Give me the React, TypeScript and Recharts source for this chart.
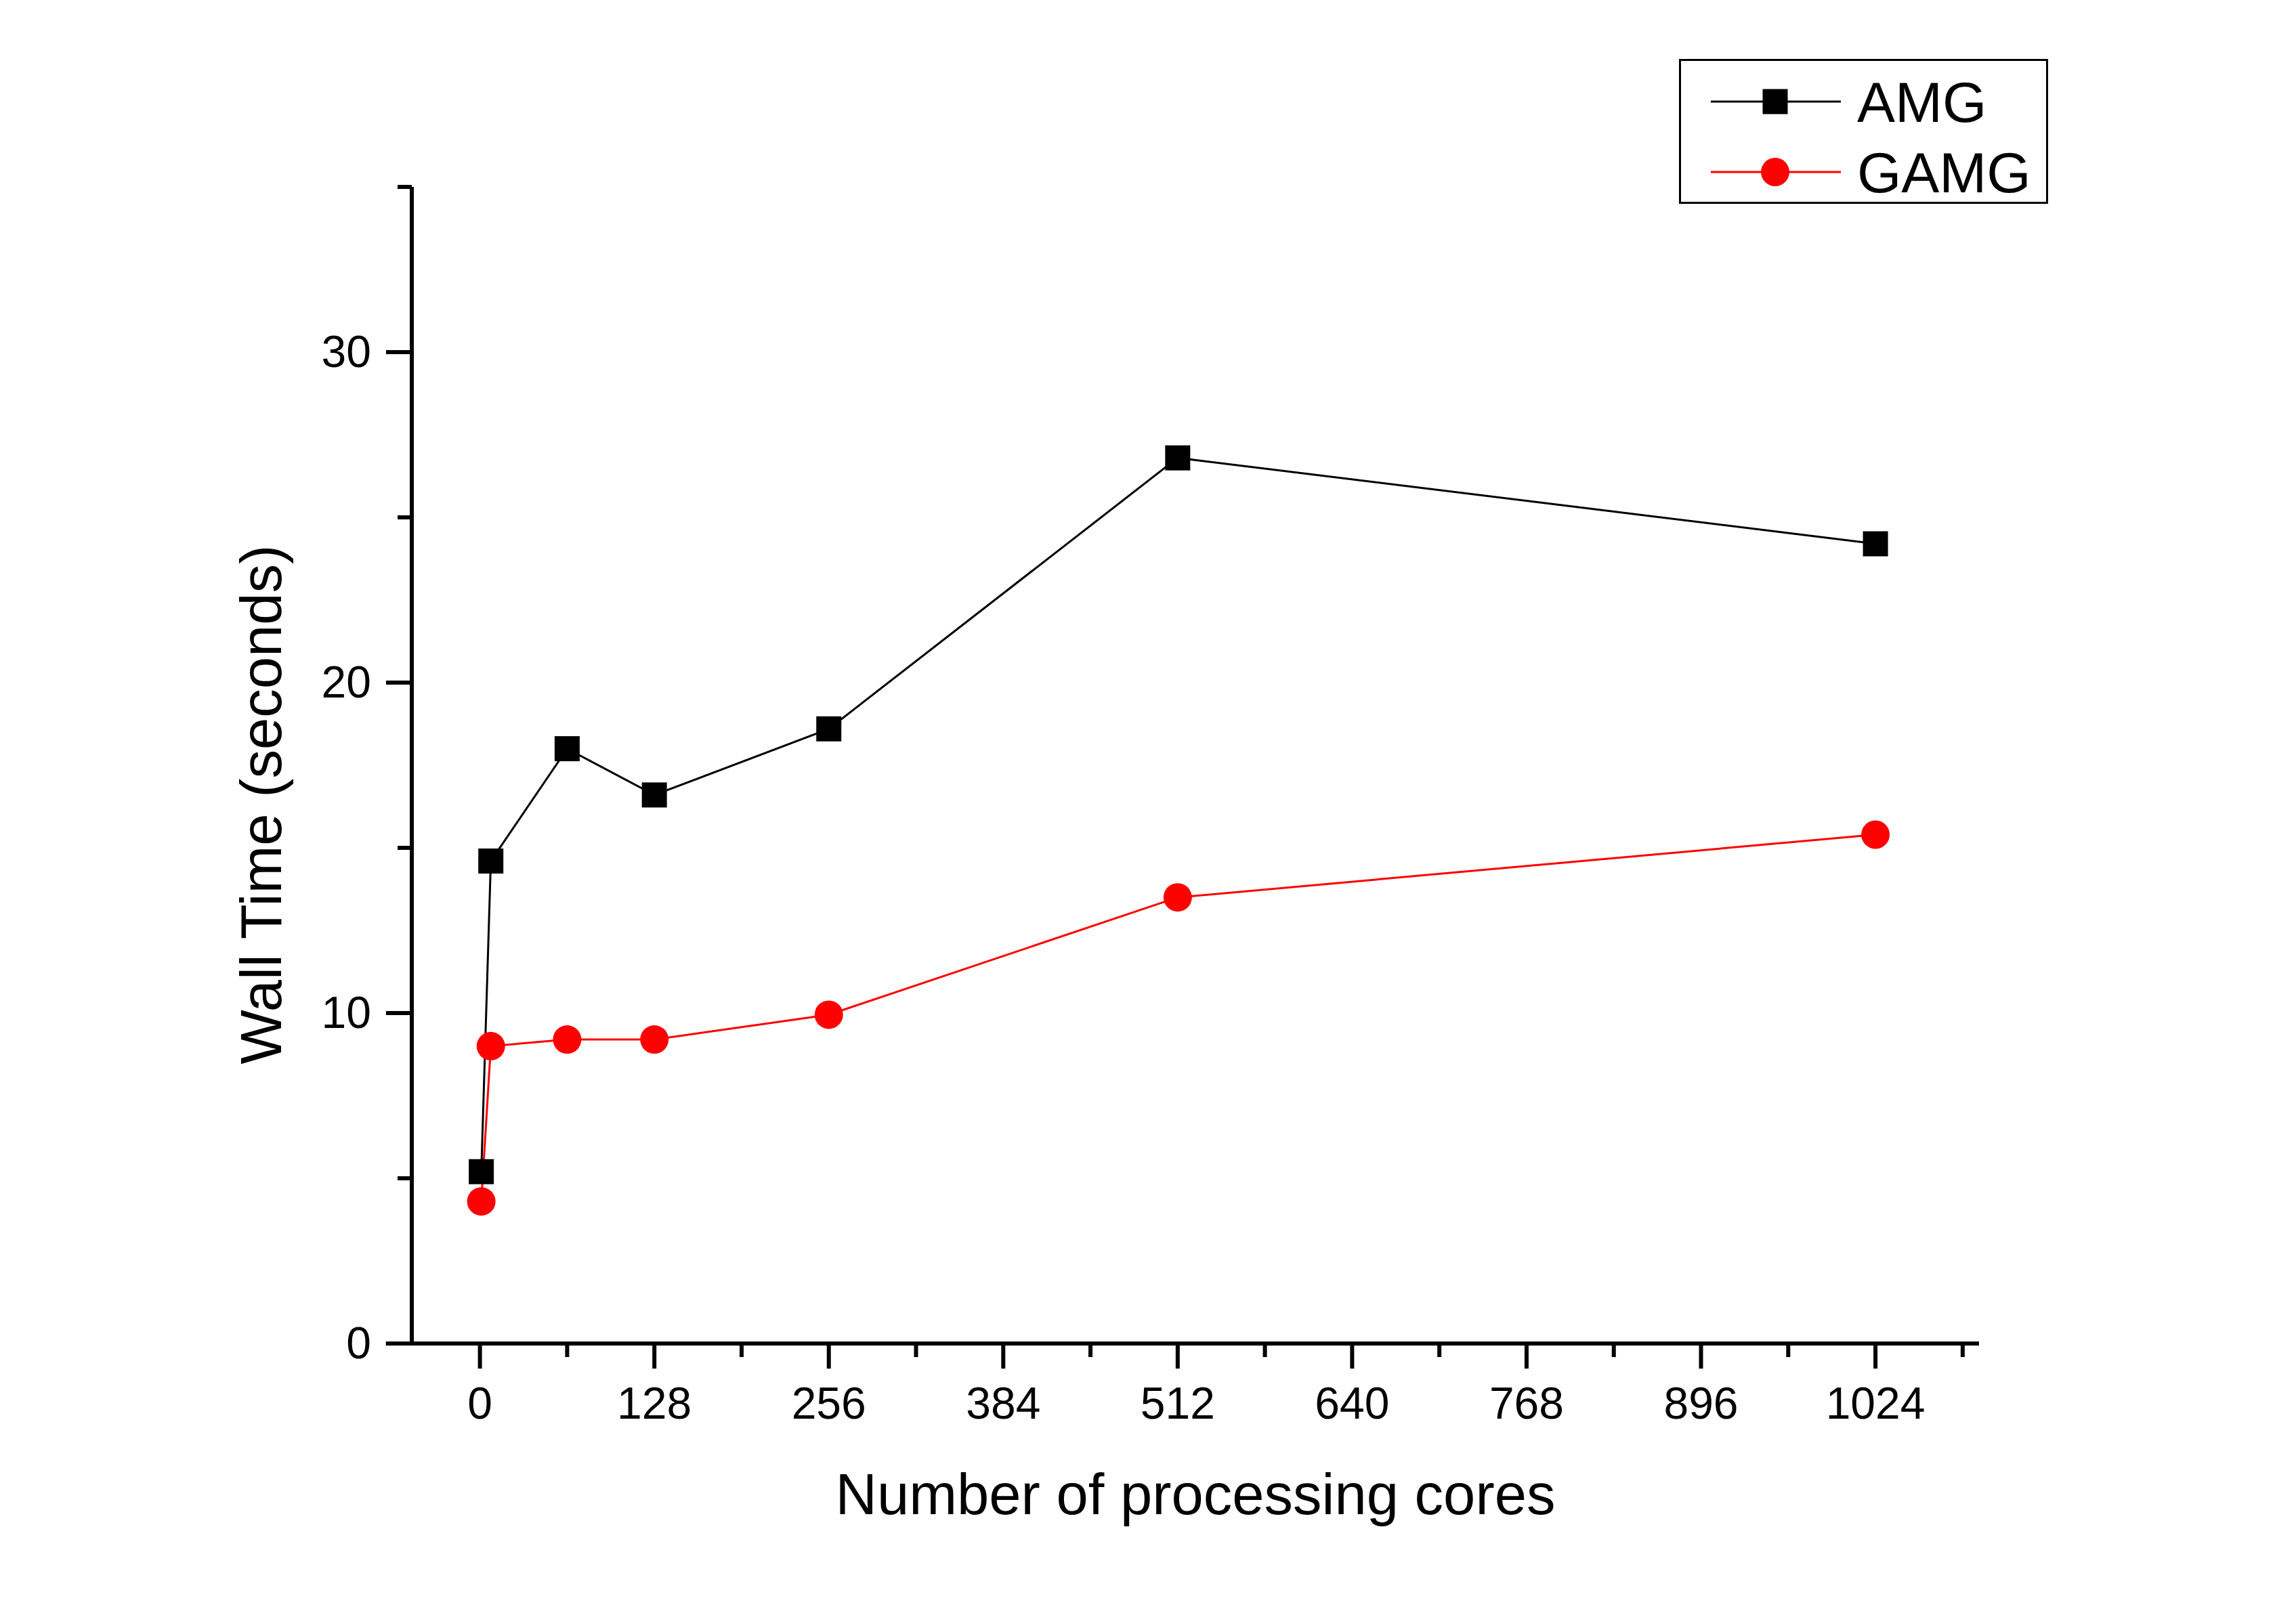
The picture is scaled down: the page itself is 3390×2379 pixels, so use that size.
import React from 'react';
import { LineChart, Line, XAxis, YAxis, Legend, Label, ReferenceLine } from 'recharts';

const cores = [1, 8, 64, 128, 256, 512, 1024];
const amgTime = [5.2, 14.6, 18.0, 16.6, 18.6, 26.8, 24.2];
const gamgTime = [4.3, 9.0, 9.2, 9.2, 9.95, 13.5, 15.4];

const xTicks = [0, 64, 128, 192, 256, 320, 384, 448, 512, 576, 640, 704, 768, 832, 896, 960, 1024, 1088];
const yTicks = [0, 5, 10, 15, 20, 25, 30, 35];

const data = cores.map((c, i) => ({ cores: c, amg: amgTime[i], gamg: gamgTime[i] }));

const FONT = "'Liberation Sans', Arial, sans-serif";
const AXIS_W = 6;

const XTick = (props: any) => {
  const { x, y, payload } = props;
  const major = payload.value % 128 === 0;
  return (
    <g>
      <line x1={x} y1={y} x2={x} y2={y + (major ? 37 : 20)} stroke="#000" strokeWidth={AXIS_W} />
      {major && (
        <text x={x} y={y + 111} textAnchor="middle" fontSize={66} fontFamily={FONT} fill="#000">
          {payload.value}
        </text>
      )}
    </g>
  );
};

const YTick = (props: any) => {
  const { x, y, payload } = props;
  const major = payload.value % 10 === 0;
  return (
    <g>
      <line x1={x} y1={y} x2={x - (major ? 38 : 21)} y2={y} stroke="#000" strokeWidth={AXIS_W} />
      {major && (
        <text x={x - 60} y={y + 22} textAnchor="end" fontSize={66} fontFamily={FONT} fill="#000">
          {payload.value}
        </text>
      )}
    </g>
  );
};

const SquareDot = (props: any) => {
  const { cx, cy, index } = props;
  return <rect key={`sq-${index}`} x={cx - 18.5} y={cy - 18.5} width={37} height={37} fill="#000" />;
};

const CircleDot = (props: any) => {
  const { cx, cy, index } = props;
  return <circle key={`ci-${index}`} cx={cx} cy={cy} r={21} fill="#ff0000" />;
};

const LegendBox = (props: any) => {
  const payload = props.payload || [];
  const rows = [
    { key: 'amg', name: 'AMG', color: '#000', shape: 'square' },
    { key: 'gamg', name: 'GAMG', color: '#ff0000', shape: 'circle' },
  ];
  return (
    <svg width={545} height={214} style={{ display: 'block' }}>
      <rect x={1.5} y={1.5} width={542} height={211} fill="#fff" stroke="#000" strokeWidth={3} />
      {rows.map((r, i) => {
        const cy = 63 + i * 104;
        const entry = payload.find((p: any) => p.dataKey === r.key);
        const label = entry ? entry.value : r.name;
        return (
          <g key={r.key}>
            <line x1={47} y1={cy} x2={239} y2={cy} stroke={r.color} strokeWidth={3} />
            {r.shape === 'square' ? (
              <rect x={142 - 18.5} y={cy - 18.5} width={37} height={37} fill={r.color} />
            ) : (
              <circle cx={142} cy={cy} r={21} fill={r.color} />
            )}
            <text x={263} y={cy + 30} fontSize={84} fontFamily={FONT} fill="#000">
              {label}
            </text>
          </g>
        );
      })}
    </svg>
  );
};

export default function App() {
  return (
    <div style={{ position: 'absolute', left: 0, top: 0, width: 3390, height: 2379, background: '#fff' }}>
      <LineChart
        width={3390}
        height={2379}
        data={data}
        margin={{ top: 276, right: 468, bottom: 394, left: 607 }}
      >
        <XAxis
          type="number"
          dataKey="cores"
          domain={[-50, 1100]}
          ticks={xTicks}
          interval={0}
          height={1}
          tickSize={0}
          tickMargin={0}
          tickLine={false}
          tick={<XTick />}
          axisLine={{ stroke: '#000', strokeWidth: AXIS_W }}
          allowDataOverflow
        >
          <Label
            content={(p: any) => {
              const vb = p.viewBox || { x: 608, y: 1984, width: 2314 };
              return (
                <text
                  x={vb.x + vb.width / 2}
                  y={1984 + 252}
                  textAnchor="middle"
                  fontSize={85}
                  fontFamily={FONT}
                  fill="#000"
                >
                  Number of processing cores
                </text>
              );
            }}
          />
        </XAxis>
        <YAxis
          type="number"
          domain={[0, 35]}
          ticks={yTicks}
          interval={0}
          width={1}
          tickSize={0}
          tickMargin={0}
          tickLine={false}
          tick={<YTick />}
          axisLine={{ stroke: '#000', strokeWidth: AXIS_W }}
          allowDataOverflow
        >
          <Label
            content={() => (
              <text
                x={385}
                y={1188}
                transform="rotate(-90, 385, 1188)"
                textAnchor="middle"
                dominantBaseline="central"
                fontSize={85}
                fontFamily={FONT}
                fill="#000"
              >
                Wall Time (seconds)
              </text>
            )}
          />
        </YAxis>
        <ReferenceLine
          segment={[{ x: -69, y: 0 }, { x: -50, y: 0 }]}
          stroke="#000"
          strokeWidth={AXIS_W}
          ifOverflow="visible"
        />
        <Legend
          layout="vertical"
          align="center"
          verticalAlign="middle"
          content={<LegendBox />}
          wrapperStyle={{ position: 'absolute', left: 2479, top: 87, width: 545, height: 214 }}
        />
        <Line
          type="linear"
          dataKey="amg"
          name="AMG"
          stroke="#000"
          strokeWidth={3}
          dot={<SquareDot />}
          activeDot={false}
          isAnimationActive={false}
        />
        <Line
          type="linear"
          dataKey="gamg"
          name="GAMG"
          stroke="#ff0000"
          strokeWidth={3}
          dot={<CircleDot />}
          activeDot={false}
          isAnimationActive={false}
        />
      </LineChart>
    </div>
  );
}
